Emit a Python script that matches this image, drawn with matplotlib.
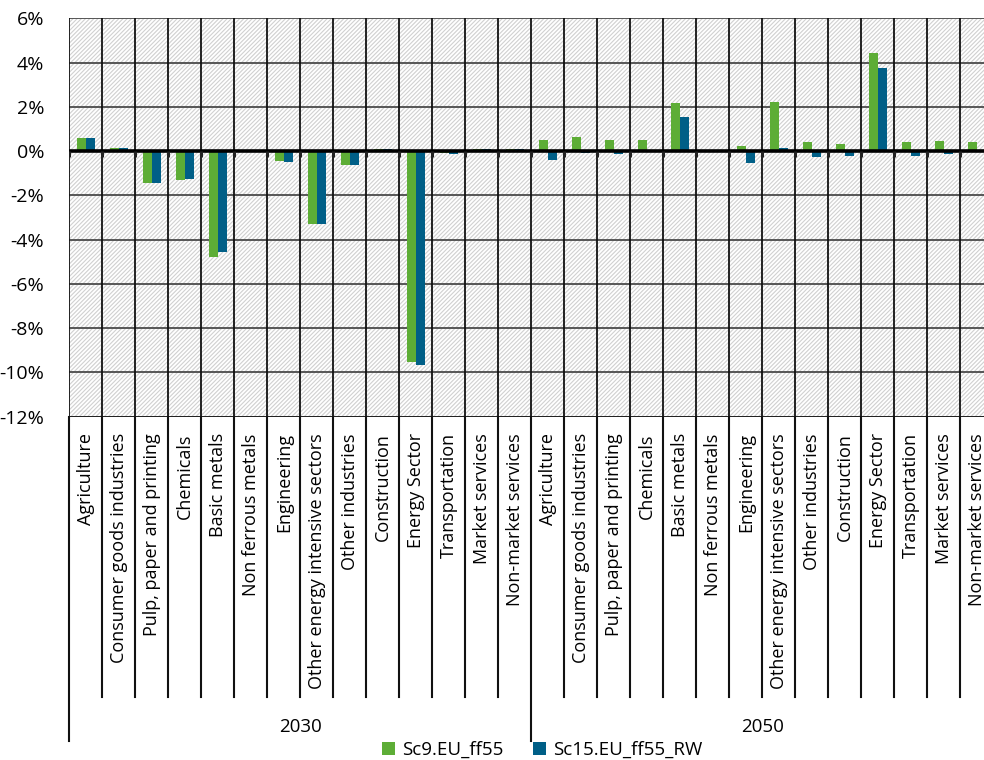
import matplotlib
matplotlib.use("Agg")
import matplotlib.pyplot as plt
from matplotlib.patches import Rectangle, Patch
from matplotlib.transforms import blended_transform_factory
import numpy as np

plt.rcParams['font.family'] = ['Open Sans', 'DejaVu Sans']
plt.rcParams['hatch.linewidth'] = 0.8

sectors = ["Agriculture", "Consumer goods industries", "Pulp, paper and printing",
           "Chemicals", "Basic metals", "Non ferrous metals", "Engineering",
           "Other energy intensive sectors", "Other industries", "Construction",
           "Energy Sector", "Transportation", "Market services", "Non-market services"]
years = ["2030", "2050"]
series_names = ["Sc9.EU_ff55", "Sc15.EU_ff55_RW"]

# Percentage change by sector, first 2030 then 2050
sc9_2030 = [0.60, 0.15, -1.43, -1.30, -4.78, 0.0, -0.45, -3.29, -0.62, 0.09, -9.53, -0.09, 0.10, 0.09]
sc15_2030 = [0.60, 0.15, -1.43, -1.27, -4.55, 0.0, -0.50, -3.29, -0.62, 0.08, -9.67, -0.15, 0.09, 0.08]
sc9_2050 = [0.51, 0.62, 0.50, 0.51, 2.19, 0.0, 0.21, 2.23, 0.42, 0.32, 4.43, 0.42, 0.47, 0.42]
sc15_2050 = [-0.39, -0.10, -0.15, 0.03, 1.54, 0.0, -0.56, 0.15, -0.26, -0.24, 3.74, -0.20, -0.15, 0.0]

green = "#5dad36"
blue = "#005f87"

sc9 = np.array(sc9_2030 + sc9_2050)
sc15 = np.array(sc15_2030 + sc15_2050)
labels = sectors * len(years)
n = len(labels)
x = np.arange(n)

fig = plt.figure(figsize=(9.84, 7.6), dpi=100)
ax = fig.add_axes([69.3 / 984, 1 - 416.7 / 760, 924 / 984, 398.4 / 760])

# hatched plot background
bg = Rectangle((0, 0), 1, 1, transform=ax.transAxes, facecolor="white",
               edgecolor="#d0d0d0", linewidth=0, hatch="////////", zorder=0)
ax.add_patch(bg)
ax.patch.set_visible(False)

bw = 0.28
ax.bar(x - bw / 2, sc9, width=bw, color=green, zorder=3, label=series_names[0])
ax.bar(x + bw / 2, sc15, width=bw, color=blue, zorder=3, label=series_names[1])

ax.set_xlim(-0.5, n - 0.5)
ax.set_ylim(-12, 6)
yt = np.arange(-12, 7, 2)
ax.set_yticks(yt)
ax.set_yticklabels([f"{v}%" for v in yt], fontsize=14)
ax.tick_params(axis="y", length=0, pad=18)

# horizontal gridlines
for v in yt:
    ax.axhline(v, color="#4a4a4a", lw=1.3, zorder=1)
ax.axhline(-12, color="#111111", lw=1.8, zorder=1)
# category boundaries
bounds = np.arange(n + 1) - 0.5
for b in bounds:
    ax.axvline(b, color="#111111", lw=1.3, zorder=1)
ax.axhline(0, color="black", lw=2.6, zorder=4)
ax.vlines(bounds, -0.28, 0, color="#222222", lw=2.2, zorder=4)

for s in ax.spines.values():
    s.set_visible(False)

ax.set_xticks(x)
ax.set_xticklabels(labels, rotation=90, fontsize=13, va="top", ha="center")
ax.tick_params(axis="x", length=0, pad=12)

# separators and group labels below the axis
tr = blended_transform_factory(ax.transData, ax.transAxes)
for i, b in enumerate(bounds):
    long = (i % len(sectors) == 0)
    y0 = -0.814 if long else -0.7036
    ax.plot([b, b], [0, y0], color="#111111", lw=1.5, transform=tr,
            clip_on=False, zorder=5)
for k, yr in enumerate(years):
    cx = k * len(sectors) + (len(sectors) - 1) / 2
    ax.text(cx, -0.779, yr, transform=tr, ha="center", va="center", fontsize=13.5)

handles = [Patch(facecolor=green), Patch(facecolor=blue)]
fig.legend(handles, series_names, loc="center", bbox_to_anchor=(0.551, 0.0132),
           ncol=2, frameon=False, fontsize=13.5, handlelength=0.7, handleheight=0.7,
           handletextpad=0.35, columnspacing=1.6, borderpad=0)

fig.savefig("out.png", dpi=100)
